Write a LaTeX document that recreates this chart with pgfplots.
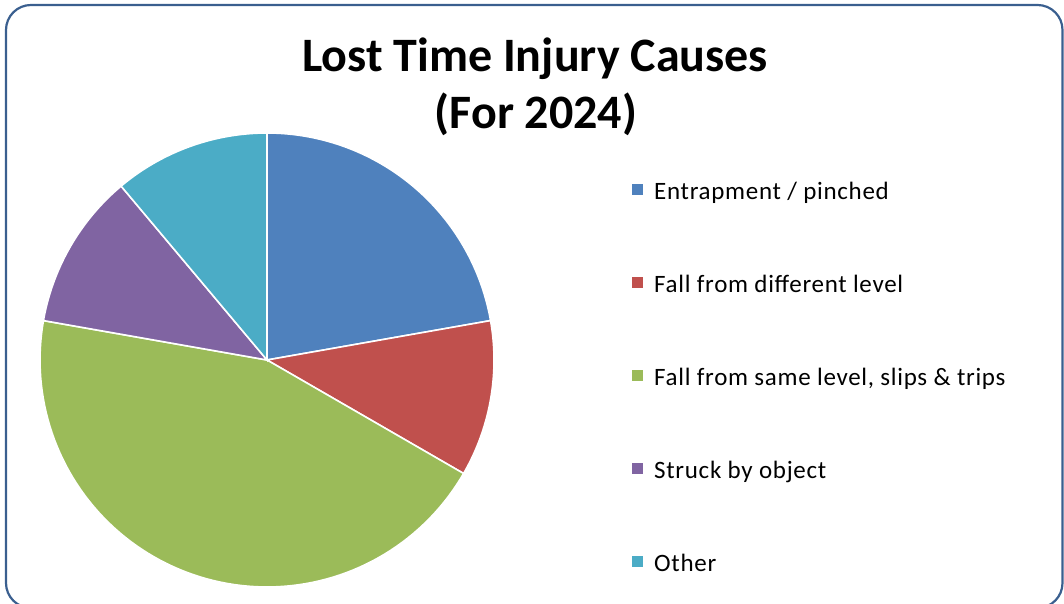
\documentclass[border=0pt]{standalone}
\usepackage{pgfplots}
\pgfplotsset{compat=1.18}
\usepackage{fontspec}
\setmainfont{Carlito}
\newfontfamily\legfont[LetterSpace=2.8]{Carlito}
\definecolor{cEnt}{HTML}{4F81BD}
\definecolor{cDiff}{HTML}{C0504D}
\definecolor{cSame}{HTML}{9BBB59}
\definecolor{cStruck}{HTML}{8064A2}
\definecolor{cOther}{HTML}{4BACC6}
\definecolor{frame}{HTML}{3A5F8F}
% data: number of lost time injuries per cause (2024)
\def\vA{2}\def\vB{1}\def\vC{4}\def\vD{1}\def\vE{1}
\pgfmathsetmacro\total{\vA+\vB+\vC+\vD+\vE}
\pgfmathsetmacro\aA{90}
\pgfmathsetmacro\aB{\aA-360*\vA/\total}
\pgfmathsetmacro\aC{\aB-360*\vB/\total}
\pgfmathsetmacro\aD{\aC-360*\vC/\total}
\pgfmathsetmacro\aE{\aD-360*\vD/\total}
\pgfmathsetmacro\aF{\aE-360*\vE/\total}
\newcommand\pieslice[3]{%
  \addplot[fill=#3, draw=white, line width=1.6pt, domain=#1:#2, samples=90]
    ({cos(x)},{sin(x)}) -- (axis cs:0,0) -- cycle;}
\begin{document}
\begin{tikzpicture}[x=1pt,y=1pt]
\useasboundingbox (0,0) rectangle (1064,604);
\draw[frame, line width=2.2pt, rounded corners=25pt] (6,-4) rectangle (1062.5,599);
\node[font=\fontsize{48}{56}\bfseries, anchor=base] at (535,532) {Lost Time Injury Causes};
\node[font=\fontsize{48}{56}\bfseries, anchor=base] at (536,475) {(For 2024)};
\begin{axis}[
  at={(267pt,244pt)}, anchor=center,
  width=454pt, height=454pt, scale only axis,
  xmin=-1, xmax=1, ymin=-1, ymax=1,
  hide axis, clip=false,
  legend cell align=left,
  legend image code/.code={\fill[#1, draw=none] (0pt,-1pt) rectangle (11pt,10pt);},
  legend style={at={(1.304,0.89)}, anchor=north west, draw=none, fill=none,
    inner sep=0pt, row sep=72pt,
    font=\legfont\fontsize{25}{29}\selectfont,
    nodes={inner sep=0pt, text height=16pt, text depth=5pt},
    /tikz/every odd column/.style={column sep=11pt}},
]
\pieslice{\aA}{\aB}{cEnt}
\addlegendentry{Entrapment / pinched}
\pieslice{\aB}{\aC}{cDiff}
\addlegendentry{Fall from different level}
\pieslice{\aC}{\aD}{cSame}
\addlegendentry{Fall from same level, slips \& trips}
\pieslice{\aD}{\aE}{cStruck}
\addlegendentry{Struck by object}
\pieslice{\aE}{\aF}{cOther}
\addlegendentry{Other}
\end{axis}
\end{tikzpicture}
\end{document}
